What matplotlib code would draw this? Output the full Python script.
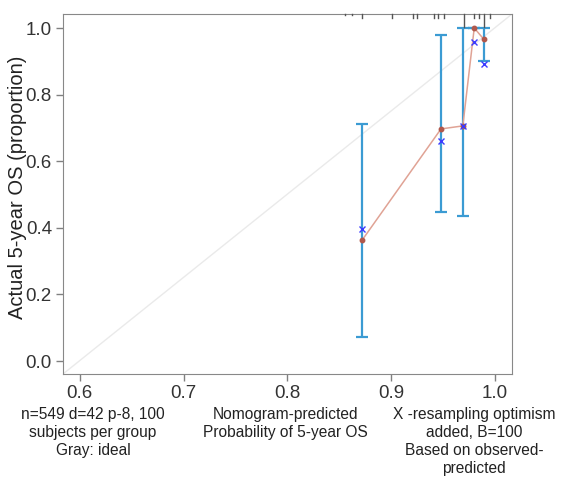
import numpy as np
import matplotlib.pyplot as plt

plt.rcParams['font.family'] = ['Liberation Sans', 'DejaVu Sans']

# calibration groups
pred = [0.872, 0.948, 0.969, 0.980, 0.989]
apparent = [0.363, 0.697, 0.706, 1.000, 0.967]
corrected = [0.396, 0.661, 0.706, 0.958, 0.892]
ci_low = [0.072, 0.447, 0.435, 1.000, 0.901]
ci_high = [0.712, 0.979, 1.000, 1.000, 1.000]

# rug of predicted values along the top
rug_x = [0.8555, 0.862, 0.8716, 0.901, 0.9207, 0.9252, 0.9416, 0.9451,
         0.9506, 0.9702, 0.9801, 0.9849, 0.9898, 0.9953]
rug_h = [0.3, 0.3, 1, 1, 1, 1, 1, 1, 1, 3, 1, 1, 3, 1]

xticks = [0.6, 0.7, 0.8, 0.9, 1.0]
yticks = [0.0, 0.2, 0.4, 0.6, 0.8, 1.0]

fig = plt.figure(figsize=(5.61, 4.8), dpi=100)
ax = fig.add_axes([0.1123, 0.2208, 0.8004, 0.75])
ax.set_xlim(0.5839, 1.0164)
ax.set_ylim(-0.039, 1.042)

# ideal line (corner to corner)
ax.plot([0, 1], [0, 1], transform=ax.transAxes, color='#eaeaea', lw=1, zorder=1)

pred = np.array(pred)
apparent = np.array(apparent)
lo = np.array(ci_low)
hi = np.array(ci_high)
ax.errorbar(pred, apparent, yerr=[apparent - lo, hi - apparent], fmt='none',
            ecolor='#3b9bd3', elinewidth=1.6, capsize=4, capthick=1.6, zorder=2)
ax.plot(pred, apparent, color='#e0a395', lw=1.1, zorder=3)
ax.plot(pred, apparent, 'o', color='#b0584c', ms=3.2, zorder=4)
ax.plot(pred, corrected, 'x', color='#3b3bff', ms=4.5, mew=1, zorder=5)

# rug
for x, h in zip(rug_x, rug_h):
    ax.plot([x, x], [1, 1 - 0.012 * h], transform=ax.get_xaxis_transform(),
            color='#555555', lw=1, zorder=6, clip_on=False)

ax.set_xticks(xticks)
ax.set_xticklabels(['%.1f' % v for v in xticks])
ax.set_yticks(yticks)
ax.set_yticklabels(['%.1f' % v for v in yticks])
ax.tick_params(labelsize=13.5, colors='#333333', length=5, width=1, pad=3)
ax.tick_params(axis='both', color='#808080')
for s in ax.spines.values():
    s.set_color('#888888')
ax.set_ylabel('Actual 5-year OS (proportion)', fontsize=14.5, color='#222222')
ax.yaxis.set_label_coords(-0.08, 0.52)

fig.text(93 / 561, 1 - 407 / 480,
         'n=549 d=42 p-8, 100\nsubjects per group\nGray: ideal',
         ha='center', va='top', fontsize=11.2, color='#222222', linespacing=1.25)
fig.text(285 / 561, 1 - 407 / 480,
         'Nomogram-predicted\nProbability of 5-year OS',
         ha='center', va='top', fontsize=11.2, color='#222222', linespacing=1.25)
fig.text(474 / 561, 1 - 407 / 480,
         'X -resampling optimism\nadded, B=100\nBased on observed-\npredicted',
         ha='center', va='top', fontsize=11.2, color='#222222', linespacing=1.25)

fig.savefig('out.png', dpi=100)
